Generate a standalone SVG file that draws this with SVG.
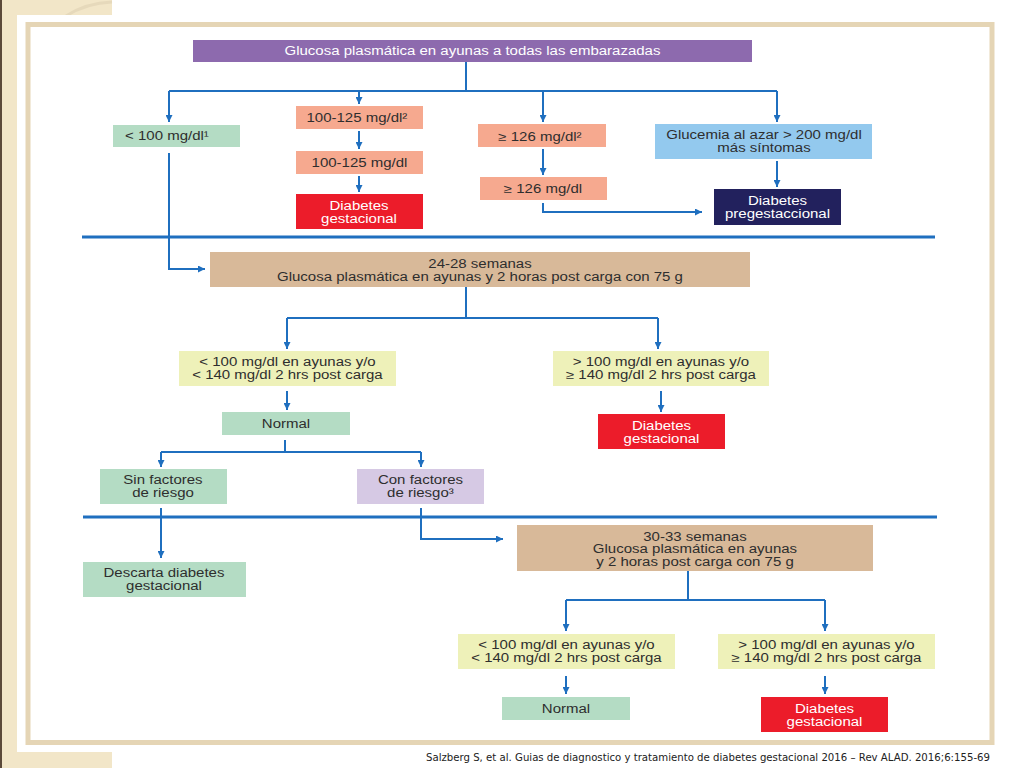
<svg xmlns="http://www.w3.org/2000/svg" width="1024" height="768" viewBox="0 0 1024 768">
<style>
text{font-family:"Liberation Sans",Arial,sans-serif;font-size:12px;fill:#2e2e2e;text-anchor:middle;transform-box:fill-box;transform-origin:center;transform:scaleX(1.25)}
text.w{fill:#ffffff}
.c{fill:none;stroke:#1f6fbf;stroke-width:2}
.a{marker-end:url(#ah)}
.sep{fill:none;stroke:#1f6fbf;stroke-width:3}
.purple{fill:#8d6aae}.green{fill:#b4dcc4}.salmon{fill:#f6a98f}.red{fill:#ec1c2a}
.blue{fill:#93c9ee}.navy{fill:#22215d}.tan{fill:#d8b999}.yellow{fill:#eef1b9}.lav{fill:#d6c9e4}
text.cite{font-family:"DejaVu Sans",Verdana,sans-serif;font-size:10.5px;text-anchor:start;transform:none;fill:#222}
</style>
<defs>
<marker id="ah" viewBox="0 0 8 8" refX="8" refY="4" markerWidth="7" markerHeight="7" markerUnits="userSpaceOnUse" orient="auto">
<path d="M0,0 L8,4 L0,8 z" fill="#1f6fbf"/>
</marker>
</defs>
<g id="background">
<rect x="0" y="0" width="1024" height="768" fill="#ffffff"/>
<rect x="0" y="0" width="112" height="768" fill="#f2e6c8"/>
<rect x="0" y="0" width="2" height="768" fill="#5b4a3a"/>
<path d="M66,16 Q86,3 112,2" fill="none" stroke="#e6d9bb" stroke-width="3"/>
<rect x="17" y="15" width="1007" height="737" fill="#ffffff"/>
<rect x="28" y="24.5" width="964" height="718" fill="none" stroke="#e5d5b5" stroke-width="5"/>
</g>
<g id="connectors">
<polyline class="c" points="466,62 466,91"/>
<polyline class="c" points="169,91 777,91"/>
<polyline class="c a" points="169,91 169,122"/>
<polyline class="c a" points="359,91 359,104"/>
<polyline class="c a" points="543,91 543,122"/>
<polyline class="c a" points="777,91 777,122"/>
<polyline class="c a" points="359,131 359,149"/>
<polyline class="c a" points="359,176 359,192"/>
<polyline class="c a" points="543,149 543,175"/>
<polyline class="c a" points="543,203 543,212 702,212"/>
<polyline class="c a" points="777,161 777,187"/>
<polyline class="c a" points="169,153 169,269 205,269"/>
<line class="sep" x1="82" y1="237" x2="935" y2="237"/>
<polyline class="c" points="466,287 466,318"/>
<polyline class="c" points="287,318 658,318"/>
<polyline class="c a" points="287,318 287,349"/>
<polyline class="c a" points="658,318 658,349"/>
<polyline class="c a" points="287,391 287,410"/>
<polyline class="c a" points="661,391 661,412"/>
<polyline class="c" points="285,440 285,452"/>
<polyline class="c" points="161,452 421,452"/>
<polyline class="c a" points="161,452 161,467"/>
<polyline class="c a" points="421,452 421,467"/>
<line class="sep" x1="83" y1="517" x2="937" y2="517"/>
<polyline class="c a" points="161,508 161,558"/>
<polyline class="c a" points="421,508 421,539 503,539"/>
<polyline class="c" points="688,571 688,600"/>
<polyline class="c" points="566,600 825,600"/>
<polyline class="c a" points="566,600 566,631"/>
<polyline class="c a" points="825,600 825,631"/>
<polyline class="c a" points="566,676 566,694"/>
<polyline class="c a" points="825,676 825,694"/>
</g>
<g id="n0"><rect class="purple" x="193" y="40" width="559" height="22"/><text class="w" x="472.5" y="55">Glucosa plasmática en ayunas a todas las embarazadas</text></g>
<g id="n1"><rect class="green" x="113" y="125" width="127" height="22"/><text x="167" y="140">&lt; 100 mg/dl¹</text></g>
<g id="n2"><rect class="salmon" x="296" y="106" width="127" height="23"/><text x="357" y="122">100-125 mg/dl²</text></g>
<g id="n3"><rect class="salmon" x="296" y="151" width="127" height="23"/><text x="359.5" y="167">100-125 mg/dl</text></g>
<g id="n4"><rect class="red" x="296" y="194" width="127" height="35"/><text class="w" x="359" y="210">Diabetes</text><text class="w" x="359" y="223">gestacional</text></g>
<g id="n5"><rect class="salmon" x="478" y="124" width="128" height="23"/><text x="540" y="141">≥ 126 mg/dl²</text></g>
<g id="n6"><rect class="salmon" x="480" y="177" width="127" height="23"/><text x="543" y="193">≥ 126 mg/dl</text></g>
<g id="n7"><rect class="blue" x="655" y="124" width="217" height="35"/><text x="764" y="139.5">Glucemia al azar &gt; 200 mg/dl</text><text x="764" y="152">más síntomas</text></g>
<g id="n8"><rect class="navy" x="714" y="189" width="127" height="36"/><text class="w" x="777.5" y="205">Diabetes</text><text class="w" x="777.5" y="218">pregestaccional</text></g>
<g id="n9"><rect class="tan" x="210" y="252" width="540" height="35"/><text x="480" y="268">24-28 semanas</text><text x="480" y="281">Glucosa plasmática en ayunas y 2 horas post carga con 75 g</text></g>
<g id="n10"><rect class="yellow" x="179" y="351" width="217" height="35"/><text x="287.5" y="366">&lt; 100 mg/dl en ayunas y/o</text><text x="287.5" y="379">&lt; 140 mg/dl 2 hrs post carga</text></g>
<g id="n11"><rect class="yellow" x="553" y="351" width="216" height="35"/><text x="661" y="366">&gt; 100 mg/dl en ayunas y/o</text><text x="661" y="379">≥ 140 mg/dl 2 hrs post carga</text></g>
<g id="n12"><rect class="green" x="222" y="412" width="128" height="23"/><text x="286" y="428">Normal</text></g>
<g id="n13"><rect class="red" x="598" y="414" width="127" height="35"/><text class="w" x="661.5" y="430">Diabetes</text><text class="w" x="661.5" y="443">gestacional</text></g>
<g id="n14"><rect class="green" x="100" y="469" width="127" height="35"/><text x="163" y="484">Sin factores</text><text x="163" y="497">de riesgo</text></g>
<g id="n15"><rect class="lav" x="357" y="469" width="127" height="35"/><text x="420.5" y="484">Con factores</text><text x="420.5" y="497">de riesgo³</text></g>
<g id="n16"><rect class="green" x="83" y="562" width="163" height="35"/><text x="164" y="577">Descarta diabetes</text><text x="164" y="590">gestacional</text></g>
<g id="n17"><rect class="tan" x="517" y="525" width="356" height="46"/><text x="695" y="541">30-33 semanas</text><text x="695" y="553.5">Glucosa plasmática en ayunas</text><text x="695" y="566">y 2 horas post carga con 75 g</text></g>
<g id="n18"><rect class="yellow" x="458" y="634" width="217" height="35"/><text x="566.5" y="649">&lt; 100 mg/dl en ayunas y/o</text><text x="566.5" y="662">&lt; 140 mg/dl 2 hrs post carga</text></g>
<g id="n19"><rect class="yellow" x="718" y="634" width="217" height="35"/><text x="826.5" y="649">&gt; 100 mg/dl en ayunas y/o</text><text x="826.5" y="662">≥ 140 mg/dl 2 hrs post carga</text></g>
<g id="n20"><rect class="green" x="502" y="697" width="128" height="23"/><text x="566" y="713">Normal</text></g>
<g id="n21"><rect class="red" x="761" y="697" width="127" height="35"/><text class="w" x="824.5" y="713">Diabetes</text><text class="w" x="824.5" y="726">gestacional</text></g>
<g id="citation"><text class="cite" x="426" y="761" textLength="564" lengthAdjust="spacingAndGlyphs">Salzberg S, et al. Guias de diagnostico y tratamiento de diabetes gestacional 2016 – Rev ALAD. 2016;6:155-69</text></g>
</svg>
